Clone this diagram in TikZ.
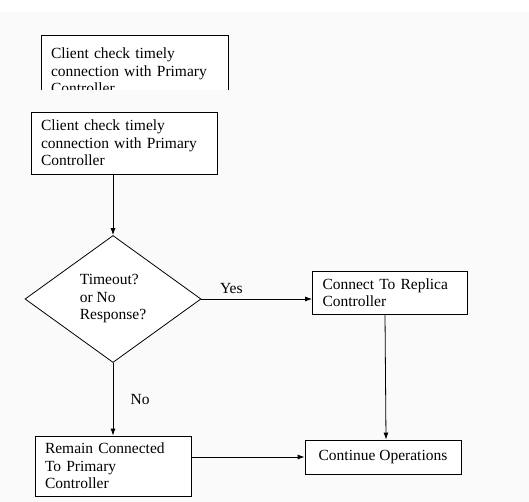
\documentclass[tikz,border=0pt]{standalone}
\usepackage{fontspec}
\setmainfont{Liberation Serif}
\usepackage{tikz}
\usetikzlibrary{arrows.meta,shapes.geometric,calc}

\begin{document}
\begin{tikzpicture}[x=1pt, y=-1pt,
  box/.style={rectangle, draw, fill=white, line width=0.8pt, inner xsep=10pt, inner ysep=0pt, align=left},
  lbl/.style={font=\fontsize{15.5}{17.5}\selectfont},
  flow/.style={-{Latex[length=7pt,width=5pt]}, line width=0.8pt}]
\useasboundingbox (0,0) rectangle (529,502);
\fill [white] (0,0) rectangle (529,502);
\fill [gray!4] (0,12) rectangle (529,502);
\begin{scope}
\clip (0,0) rectangle (529,90);
\node (t) at (134.5, 71) [box, lbl, text width=167pt, minimum height=72pt] {Client check timely\\connection with Primary\\Controller};
\end{scope}
\node (a) at (124, 143) [box, lbl, text width=166pt, minimum height=62pt] {Client check timely\\connection with Primary\\Controller};
\node (b) at (113, 299) [diamond, draw, fill=white, line width=0.8pt, lbl, align=left, inner sep=0pt, minimum width=176pt, minimum height=127pt] {Timeout?\\or No\\Response?};
\node (c) at (390, 292.5) [box, lbl, text width=135pt, minimum height=43pt] {Connect To Replica\\Controller};
\node (d) at (113, 466) [box, lbl, text width=136pt, minimum height=60pt] {Remain Connected\\To Primary\\Controller};
\node (e) at (383, 457) [rectangle, draw, fill=white, line width=0.8pt, lbl, minimum width=156pt, minimum height=34pt] {Continue Operations};
\draw [flow] (a.south -| b.north) -- (b.north);
\draw [flow] (b.east) -- (b.east -| c.west) node [lbl, pos=0.27, above=2pt] {Yes};
\draw [flow] (b.south) -- (d.north) node [lbl, midway, right=14pt] {No};
\draw [flow] ([xshift=-5pt]c.south) -- ([xshift=3pt]e.north);
\draw [flow] (d.east |- e.west) -- (e.west);
\end{tikzpicture}
\end{document}
